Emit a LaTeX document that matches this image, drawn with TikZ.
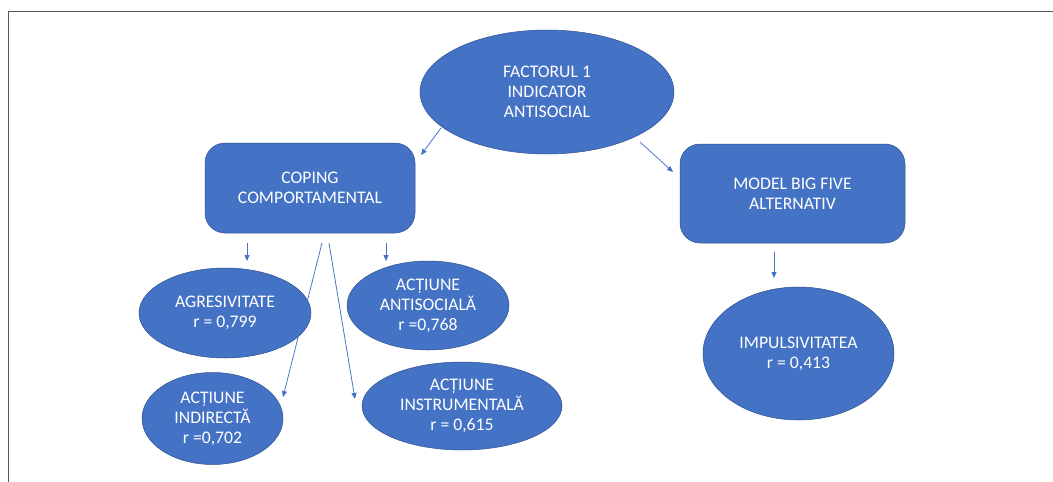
\documentclass[tikz,border=0pt]{standalone}
\usepackage{fontspec}
\setmainfont{Carlito}
\usetikzlibrary{shapes.geometric,arrows.meta}
\definecolor{obl}{HTML}{4472C4}
\definecolor{obd}{HTML}{2F528F}
\definecolor{frm}{HTML}{595959}
\begin{document}
\begin{tikzpicture}[x=1pt,y=-1pt,
  lbl/.style={text=white,align=center,font=\fontsize{17.7}{20}\selectfont},
  ell/.style={ellipse,fill=obl,draw=obd,line width=0.5pt,inner sep=0pt,lbl},
  box/.style={rectangle,rounded corners=20pt,fill=obl,draw=obd,line width=0.5pt,inner sep=0pt,lbl},
  conn/.style={draw=obl,line width=0.75pt,-{Triangle[length=6pt,width=5pt]}}]
\useasboundingbox (0,0) rectangle (1053,482);
\fill[white] (0,0) rectangle (1053,482);
\draw[frm,line width=1.2pt] (8.5,482) -- (8.5,11.5) -- (1053,11.5);

\node[ell,minimum width=254,minimum height=124] (fac) at (547,92) {FACTORUL 1\\INDICATOR\\ANTISOCIAL};
\node[box,minimum width=210,minimum height=90] (cop) at (310,188) {COPING\\COMPORTAMENTAL};
\node[box,minimum width=225,minimum height=99] (mod) at (792.5,193.5) {MODEL BIG FIVE\\ALTERNATIV};
\node[ell,minimum width=172,minimum height=90] (agr) at (225,313) {AGRESIVITATE\\r = 0,799};
\node[ell,minimum width=162,minimum height=89] (ant) at (428,305.5) {ACȚIUNE\\ANTISOCIALĂ\\r =0,768};
\node[ell,minimum width=141,minimum height=92] (ind) at (212.5,418.5) {ACȚIUNE\\INDIRECTĂ\\r =0,702};
\node[ell,minimum width=200,minimum height=88] (ins) at (462,406) {ACȚIUNE\\INSTRUMENTALĂ\\r = 0,615};
\node[ell,minimum width=191,minimum height=133] (imp) at (798.5,353.5) {IMPULSIVITATEA\\r = 0,413};

\coordinate (fc1) at (441,128); \coordinate (fc2) at (421,155);
\coordinate (fm1) at (640,142); \coordinate (fm2) at (673,172);
\coordinate (ca1) at (247,243); \coordinate (ca2) at (247,261);
\coordinate (cn1) at (386,243); \coordinate (cn2) at (386,261);
\coordinate (ci1) at (322,243); \coordinate (ci2) at (283,397);
\coordinate (cs1) at (329,243); \coordinate (cs2) at (355,399);
\coordinate (mi1) at (774,252); \coordinate (mi2) at (774,278);

\draw[conn] (fc1) -- (fc2);
\draw[conn] (fm1) -- (fm2);
\draw[conn] (ca1) -- (ca2);
\draw[conn] (cn1) -- (cn2);
\draw[conn] (ci1) -- (ci2);
\draw[conn] (cs1) -- (cs2);
\draw[conn] (mi1) -- (mi2);
\end{tikzpicture}
\end{document}
